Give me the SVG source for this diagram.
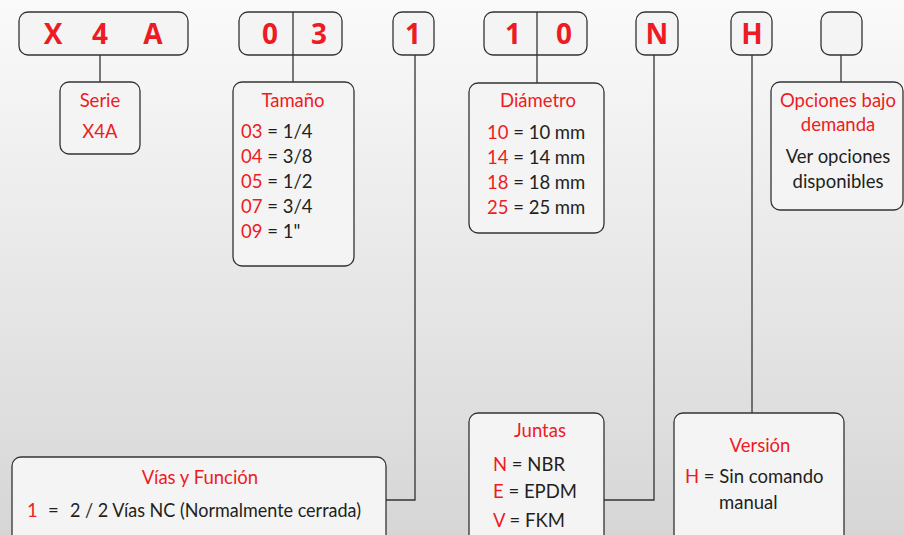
<svg xmlns="http://www.w3.org/2000/svg" width="904" height="535" viewBox="0 0 904 535">
<defs>
<linearGradient id="bg" x1="0" y1="0" x2="0" y2="1">
<stop offset="0" stop-color="#fafafa"/>
<stop offset="1" stop-color="#d6d6d6"/>
</linearGradient>
<style>
.box{fill:#f4f4f4;stroke:#333;stroke-width:1.3}
.code{font-family:"Open Sans","Liberation Sans",sans-serif;font-weight:bold;font-size:28px;fill:#ed1c24;text-anchor:middle}
.t{font-family:Lato,"Liberation Sans",sans-serif;font-size:18.5px;fill:#231f20}
.r{fill:#ed1c24}
.c{text-anchor:middle}
.ln{fill:none;stroke:#333;stroke-width:1.3}
</style>
</defs>
<rect width="904" height="535" fill="url(#bg)"/>
<g id="connectors">
<path class="ln" d="M100 55V82"/>
<path class="ln" d="M293 12V82"/>
<path class="ln" d="M415 55V500H386"/>
<path class="ln" d="M537 12V83"/>
<path class="ln" d="M654 55V500H604"/>
<path class="ln" d="M752 55V413"/>
<path class="ln" d="M841 55V82"/>
</g>
<g id="code-x4a"><rect class="box" x="19" y="12" width="169" height="43" rx="9"/><text class="code" y="44"><tspan x="53">X</tspan><tspan x="100">4</tspan><tspan x="153">A</tspan></text></g>
<g id="code-03"><rect class="box" x="239" y="12" width="103" height="43" rx="9"/><path class="ln" d="M293 12V55"/><text class="code" y="44"><tspan x="270">0</tspan><tspan x="319">3</tspan></text></g>
<g id="code-1"><rect class="box" x="393" y="12" width="41" height="43" rx="9"/><text class="code" x="413" y="44">1</text></g>
<g id="code-10"><rect class="box" x="484" y="12" width="103" height="43" rx="9"/><path class="ln" d="M537 12V55"/><text class="code" y="44"><tspan x="513">1</tspan><tspan x="564">0</tspan></text></g>
<g id="code-n"><rect class="box" x="636" y="12" width="42" height="43" rx="9"/><text class="code" x="657" y="44">N</text></g>
<g id="code-h"><rect class="box" x="731" y="12" width="41" height="43" rx="9"/><text class="code" x="752" y="44">H</text></g>
<g id="code-opt"><rect class="box" x="821" y="12" width="41" height="43" rx="9"/></g>
<g id="serie"><rect class="box" x="60" y="82" width="80" height="72" rx="9"/>
<text class="t r c" x="100" y="107">Serie</text><text class="t r c" x="100" y="138">X4A</text></g>
<g id="tamano"><rect class="box" x="233" y="82" width="121" height="184" rx="9"/>
<text class="t r c" x="293" y="107">Tamaño</text>
<text class="t" x="241" y="138"><tspan class="r">03</tspan> = 1/4</text>
<text class="t" x="241" y="163"><tspan class="r">04</tspan> = 3/8</text>
<text class="t" x="241" y="188"><tspan class="r">05</tspan> = 1/2</text>
<text class="t" x="241" y="213"><tspan class="r">07</tspan> = 3/4</text>
<text class="t" x="241" y="238"><tspan class="r">09</tspan> = 1"</text></g>
<g id="diametro"><rect class="box" x="469" y="83" width="135" height="150" rx="9"/>
<text class="t r c" x="538" y="107">Diámetro</text>
<text class="t" x="487" y="139"><tspan class="r">10</tspan> = 10 mm</text>
<text class="t" x="487" y="164"><tspan class="r">14</tspan> = 14 mm</text>
<text class="t" x="487" y="189"><tspan class="r">18</tspan> = 18 mm</text>
<text class="t" x="487" y="214"><tspan class="r">25</tspan> = 25 mm</text></g>
<g id="opciones"><rect class="box" x="771" y="82" width="132" height="128" rx="9"/>
<text class="t r c" x="838" y="107">Opciones bajo</text>
<text class="t r c" x="838" y="131">demanda</text>
<text class="t c" x="838" y="163">Ver opciones</text>
<text class="t c" x="838" y="188">disponibles</text></g>
<g id="vias"><rect class="box" x="12" y="457" width="374" height="100" rx="9"/>
<text class="t r c" x="200" y="484">Vías y Función</text>
<text class="t r" x="27" y="517">1</text><text class="t" x="48" y="517">=</text>
<text class="t" x="70" y="517" textLength="291" lengthAdjust="spacingAndGlyphs">2 / 2 Vías NC (Normalmente cerrada)</text></g>
<g id="juntas"><rect class="box" x="469" y="413" width="135" height="140" rx="9"/>
<text class="t r c" x="540" y="437">Juntas</text>
<text class="t" x="493" y="471"><tspan class="r">N</tspan> = NBR</text>
<text class="t" x="493" y="498"><tspan class="r">E</tspan> = EPDM</text>
<text class="t" x="493" y="527"><tspan class="r">V</tspan> = FKM</text></g>
<g id="version"><rect class="box" x="674" y="413" width="170" height="140" rx="9"/>
<text class="t r c" x="760" y="452">Versión</text>
<text class="t" x="685" y="483"><tspan class="r">H</tspan> = Sin comando</text>
<text class="t" x="719" y="509">manual</text></g>
</svg>
